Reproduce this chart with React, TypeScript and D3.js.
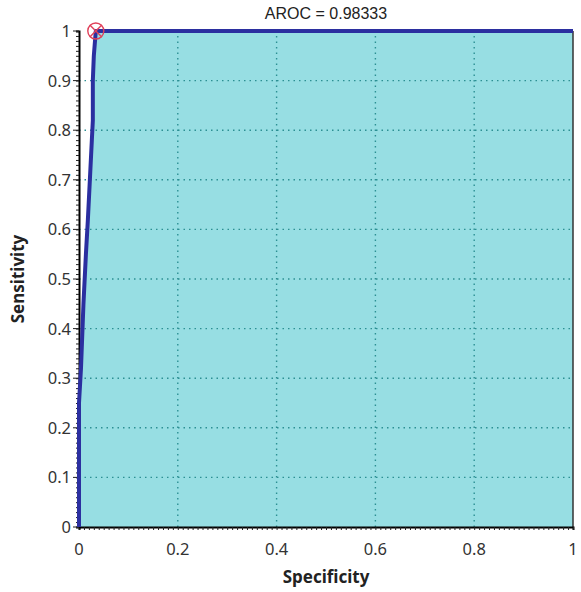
import { useEffect, useRef } from "react";
import * as d3 from "d3";

// ROC points: [1 - specificity axis value, sensitivity]
const fpr = [0, 0, 0.004, 0.009, 0.014, 0.018, 0.022, 0.026, 0.028, 0.028, 0.03, 0.034, 1];
const tpr = [0, 0.25, 0.32, 0.45, 0.55, 0.62, 0.7, 0.78, 0.82, 0.9, 0.95, 1, 1];
const xTicks = [0, 0.2, 0.4, 0.6, 0.8, 1];
const yTicks = [0, 0.1, 0.2, 0.3, 0.4, 0.5, 0.6, 0.7, 0.8, 0.9, 1];
const cutPoint = [0.034, 1];
const title = "AROC = 0.98333";

export default function App() {
  const svgRef = useRef<SVGSVGElement>(null);

  useEffect(() => {
    const svg = d3.select(svgRef.current);
    svg.selectAll("*").remove();

    const m = { left: 79, right: 573, top: 31, bottom: 527 };
    const x = d3.scaleLinear().domain([0, 1]).range([m.left, m.right]);
    const y = d3.scaleLinear().domain([0, 1]).range([m.bottom, m.top]);
    const pts = fpr.map((f, i) => [f, tpr[i]] as [number, number]);

    // cyan area under the curve
    svg
      .append("path")
      .datum(pts)
      .attr("fill", "#97dee3")
      .attr(
        "d",
        d3
          .area<[number, number]>()
          .x((d) => x(d[0]))
          .y0(y(0))
          .y1((d) => y(d[1]))
      );

    // dotted grid
    const g = svg.append("g").attr("stroke", "#2c8f93").attr("stroke-width", 1.4).attr("stroke-dasharray", "1.5,4");
    xTicks.slice(1, -1).forEach((t) =>
      g.append("line").attr("x1", x(t)).attr("x2", x(t)).attr("y1", y(0)).attr("y2", y(1))
    );
    yTicks.slice(1, -1).forEach((t) =>
      g.append("line").attr("x1", x(0)).attr("x2", x(1)).attr("y1", y(t)).attr("y2", y(t))
    );

    // right border
    svg.append("line").attr("x1", x(1)).attr("x2", x(1)).attr("y1", y(0)).attr("y2", y(1))
      .attr("stroke", "#333").attr("stroke-width", 1.5);

    // axes with dense minor ticks
    const xAxis = svg.append("g").attr("transform", `translate(0,${y(0)})`);
    xAxis.call(d3.axisBottom(x).ticks(100).tickSize(3).tickFormat(() => "")).call((s) => s.select(".domain").attr("stroke-width", 2));
    const yAxis = svg.append("g").attr("transform", `translate(${x(0)},0)`);
    yAxis.call(d3.axisLeft(y).ticks(100).tickSize(3).tickFormat(() => "")).call((s) => s.select(".domain").attr("stroke-width", 2));
    svg.selectAll(".tick line").attr("stroke", "#222");

    // major ticks
    yTicks.forEach((t) =>
      svg.append("line").attr("x1", x(0) - 6).attr("x2", x(0)).attr("y1", y(t)).attr("y2", y(t)).attr("stroke", "#222")
    );

    const font = "'Noto Sans', sans-serif";
    svg.selectAll(".xl").data(xTicks).enter().append("text")
      .attr("x", (d) => x(d)).attr("y", y(0) + 28).attr("text-anchor", "middle")
      .attr("font-family", font).attr("font-size", 16.5).attr("fill", "#333")
      .text((d) => String(d));
    svg.selectAll(".yl").data(yTicks).enter().append("text")
      .attr("x", x(0) - 8).attr("y", (d) => y(d) + 6).attr("text-anchor", "end")
      .attr("font-family", font).attr("font-size", 16.5).attr("fill", "#333")
      .text((d) => String(d));

    // ROC curve
    svg.append("path").datum(pts).attr("fill", "none").attr("stroke", "#2b2fa0")
      .attr("stroke-width", 4).attr("stroke-linejoin", "round")
      .attr("d", d3.line<[number, number]>().x((d) => x(d[0])).y((d) => y(d[1])));

    // optimal cut-off marker
    const cx = x(cutPoint[0]);
    const cy = y(cutPoint[1]);
    const mk = svg.append("g").attr("stroke", "#e0405a").attr("stroke-width", 1.4).attr("fill", "none");
    mk.append("circle").attr("cx", cx).attr("cy", cy).attr("r", 8);
    mk.append("line").attr("x1", cx - 6).attr("x2", cx + 6).attr("y1", cy - 6).attr("y2", cy + 6);
    mk.append("line").attr("x1", cx - 6).attr("x2", cx + 6).attr("y1", cy + 6).attr("y2", cy - 6);

    svg.append("text").attr("x", 326).attr("y", 19).attr("text-anchor", "middle")
      .attr("font-family", "'Liberation Sans', Arial, sans-serif").attr("font-size", 16).attr("fill", "#222")
      .text(title);
    svg.append("text").attr("x", 326).attr("y", 583).attr("text-anchor", "middle")
      .attr("font-family", font).attr("font-size", 17).attr("font-weight", "bold").attr("fill", "#222")
      .text("Specificity");
    svg.append("text").attr("transform", `translate(24,${279}) rotate(-90)`).attr("text-anchor", "middle")
      .attr("font-family", font).attr("font-size", 17).attr("font-weight", "bold").attr("fill", "#222")
      .text("Sensitivity");
  }, []);

  return (
    <svg
      ref={svgRef}
      width={581}
      height={592}
      style={{ position: "absolute", left: 0, top: 0, background: "#fff" }}
    />
  );
}
